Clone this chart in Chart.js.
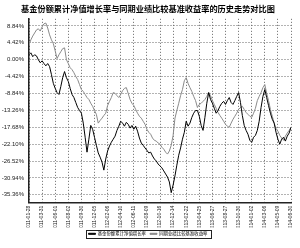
<!DOCTYPE html>
<html><head><meta charset="utf-8">
<script src="https://cdn.jsdelivr.net/npm/chart.js@4.4.1/dist/chart.umd.min.js"></script>
<style>html,body{margin:0;padding:0;background:#fff}</style></head>
<body><canvas id="c" width="300" height="248"></canvas>
<script>
const tickLabels = ["2011-01-28","2011-03-31","2011-06-01","2011-08-02","2011-09-30","2011-12-05","2012-02-06","2012-04-10","2012-06-11","2012-08-09","2012-10-16","2012-12-14","2013-02-22","2013-04-25","2013-06-27","2013-08-27","2013-10-30","2014-01-02","2014-03-06","2014-05-09","2014-06-30"];
const yTicks = [-35.36,-30.94,-26.52,-22.10,-17.68,-13.26,-8.84,-4.42,0,4.42,8.84];
const fundValues = [1.3,1.8,0.8,1.3,1.0,0.0,-0.8,-0.3,-1.0,-1.6,-1.0,-1.8,-3.9,-6.2,-7.5,-8.6,-9.1,-7.0,-4.7,-3.1,-4.7,-5.7,-7.5,-9.1,-9.9,-11.2,-12.5,-13.3,-14.0,-16.6,-20.3,-24.2,-20.8,-17.2,-18.2,-20.3,-22.4,-24.4,-25.5,-26.8,-28.9,-26.0,-23.9,-22.6,-21.6,-20.8,-20.0,-18.5,-17.4,-16.1,-16.6,-17.4,-16.4,-16.9,-17.9,-17.2,-18.2,-17.4,-18.7,-20.5,-21.8,-22.4,-23.1,-23.7,-24.4,-24.2,-25.2,-26.0,-26.5,-27.3,-27.8,-28.3,-29.1,-29.9,-30.7,-32.0,-34.8,-32.8,-30.4,-27.6,-25.0,-23.1,-20.8,-19.0,-16.1,-17.4,-16.6,-15.1,-14.0,-13.3,-13.3,-14.8,-17.2,-18.5,-15.1,-11.4,-8.6,-10.4,-11.4,-12.7,-14.0,-13.3,-12.2,-11.4,-10.9,-11.7,-10.7,-9.9,-11.2,-11.7,-10.7,-9.6,-8.6,-11.2,-14.6,-17.2,-18.5,-19.5,-21.1,-21.6,-20.3,-19.8,-18.5,-16.1,-12.5,-9.6,-7.8,-9.9,-12.0,-14.0,-15.6,-16.6,-19.0,-20.8,-22.1,-20.8,-20.3,-21.3,-20.0,-19.2,-17.7];
const benchValues = [3.9,5.2,6.2,7.0,7.8,8.1,7.5,8.6,9.4,9.6,8.3,6.5,5.2,4.2,2.3,0.3,1.3,2.1,2.9,3.1,0.0,-1.0,-2.1,-2.6,-3.4,-4.4,-5.2,-6.5,-7.8,-8.3,-9.1,-9.9,-10.4,-11.4,-12.2,-13.3,-14.3,-16.6,-15.9,-15.3,-14.6,-14.0,-12.0,-10.9,-9.9,-8.6,-8.8,-9.4,-9.9,-9.1,-8.1,-7.5,-7.3,-8.8,-10.4,-11.4,-12.0,-13.0,-14.0,-14.8,-15.3,-16.1,-16.9,-18.2,-19.0,-19.5,-20.5,-21.1,-21.3,-21.8,-22.1,-22.9,-23.4,-24.2,-24.7,-23.9,-22.4,-19.8,-15.3,-13.3,-11.4,-9.4,-7.8,-5.5,-4.7,-6.2,-7.3,-8.3,-9.6,-10.7,-12.5,-11.7,-11.4,-10.9,-10.4,-9.6,-8.6,-9.4,-10.7,-11.7,-12.7,-13.8,-14.6,-15.3,-16.1,-16.9,-17.4,-17.7,-16.6,-15.6,-14.8,-14.0,-13.0,-12.5,-12.2,-13.0,-13.8,-14.3,-14.8,-15.1,-14.0,-12.7,-10.7,-9.6,-8.6,-7.3,-6.5,-8.8,-10.7,-13.0,-14.8,-16.6,-18.0,-18.7,-19.8,-20.5,-21.1,-20.0,-19.2,-18.5,-17.7];
const seriesNames = ["基金份额累计净值增长率","同期业绩比较基准收益率"];
const title = "基金份额累计净值增长率与同期业绩比较基准收益率的历史走势对比图";
const step = (fundValues.length - 1) / (tickLabels.length - 1);

const legendBox = {
  id: 'legendBox',
  afterDraw(chart) {
    const lg = chart.legend;
    if (!lg || !lg.legendHitBoxes || !lg.legendHitBoxes.length) return;
    const hb = lg.legendHitBoxes;
    const l = hb[0].left - 3, r = hb[hb.length-1].left + hb[hb.length-1].width + 3;
    const t = hb[0].top - 2, b = hb[0].top + hb[0].height + 2;
    const ctx = chart.ctx;
    ctx.save(); ctx.strokeStyle = '#222'; ctx.lineWidth = 1;
    ctx.strokeRect(Math.round(l)+0.5, Math.round(t)+0.5, Math.round(r-l), Math.round(b-t));
    ctx.restore();
  }
};

new Chart(document.getElementById('c'), {
  type: 'line',
  data: {
    datasets: [
      { label: seriesNames[0], data: fundValues.map((v,i)=>({x:i,y:v})), borderColor:'#000', backgroundColor:'#000', borderWidth:1, pointRadius:0, tension:0 },
      { label: seriesNames[1], data: benchValues.map((v,i)=>({x:i,y:v})), borderColor:'#8a8a8a', backgroundColor:'#8a8a8a', borderWidth:1, pointRadius:0, tension:0 }
    ]
  },
  options: {
    responsive:false, animation:false,
    layout:{ padding:{left:0,right:4,top:0,bottom:2} },
    plugins:{
      title:{ display:true, text:title, color:'#000', font:{family:'Noto Sans CJK SC', size:8.2, weight:'bold'}, padding:{top:4,bottom:5} },
      legend:{ position:'bottom', labels:{ boxWidth:7, boxHeight:1, padding:4, color:'#000', font:{family:'Noto Sans CJK SC', size:4.4} } },
      tooltip:{enabled:false}
    },
    scales:{
      x:{ type:'linear', min:0, max:fundValues.length-1,
        afterBuildTicks(s){ s.ticks = tickLabels.map((t,i)=>({value:i*step})); },
        afterFit(s){ s.height = 25; },
        ticks:{ autoSkip:false, maxRotation:90, minRotation:90, padding:3, color:'#222', font:{family:'Liberation Sans', size:5},
          callback(v, i){ return tickLabels[i]; } },
        grid:{ color:'#666', lineWidth:1, drawTicks:false },
        border:{ display:true, color:'#222', width:1.5, dash:[1,2] }
      },
      y:{ type:'linear', min:-37.4, max:10.7,
        afterBuildTicks(s){ s.ticks = yTicks.map(v=>({value:v})); },
        afterFit(s){ s.width = 29; },
        ticks:{ padding:5, color:'#222', font:{family:'Liberation Sans', size:6}, callback(v){ return v.toFixed(2)+'%'; } },
        grid:{ color:'#666', lineWidth:1, drawTicks:false },
        border:{ display:true, color:'#222', width:1.5, dash:[1,2] }
      }
    }
  },
  plugins:[legendBox]
});
</script></body></html>
